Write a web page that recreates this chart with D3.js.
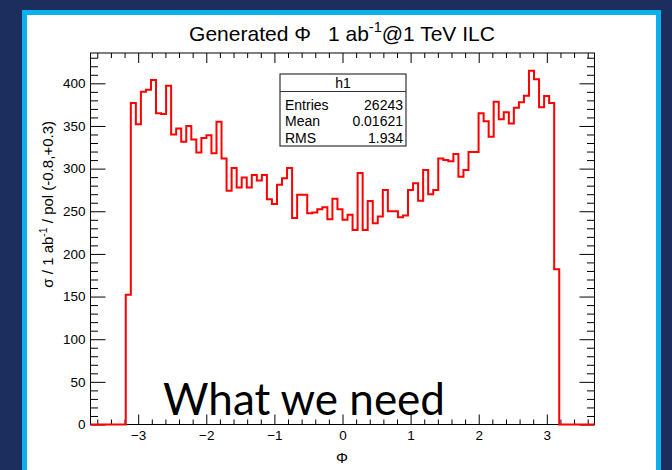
<!DOCTYPE html>
<html>
<head>
<meta charset="utf-8">
<script src="https://cdn.jsdelivr.net/npm/d3@7"></script>
<style>
  html, body { margin: 0; padding: 0; background: #1b2e5d; }
  svg { display: block; }
</style>
</head>
<body>
<svg id="chart" width="672" height="470"></svg>
<script>
// Histogram h1: generated Φ, 100 bins over [-3.7, 3.7]
const phiRange = [-3.7, 3.7];
const sigma = [
  0, 0, 0, 0, 0, 0, 0, 152,
  377, 352, 390, 392.5, 404, 365, 364, 397, 340, 347,
  331.5, 350, 334, 319, 336, 339, 318, 355, 312, 274,
  300.7, 278, 289.7, 278, 292.5, 286, 292.5,
  264, 258.5, 281, 288.6, 300.7,
  242, 269.4, 269.4, 247.6, 248.4, 252.3, 254.6, 240.5, 264.8, 252.3,
  240, 246, 228, 295, 228, 262, 236, 244, 275, 250, 250, 243, 245,
  275, 282.7, 262.4, 298.4, 270, 275, 312, 310, 308.5, 317, 290.5, 298.4, 319.5, 319.5,
  365, 355.4, 337.4, 378.5, 358, 366, 353, 371.4, 377.7, 385.5, 414.8, 404.7, 371.8, 385, 377,
  182,
  0, 0, 0, 0, 0, 0, 0
];
const xTicks = [-3, -2, -1, 0, 1, 2, 3];
const yTicks = [0, 50, 100, 150, 200, 250, 300, 350, 400];
const statsRows = [["Entries", "26243"], ["Mean", "0.01621"], ["RMS", "1.934"]];
const histName = "h1";

const svg = d3.select("#chart");
const W = 672, H = 470;
const font = "'Liberation Sans', Arial, Helvetica, sans-serif";

// slide background and framed canvas
svg.append("rect").attr("width", W).attr("height", H).attr("fill", "#1b2e5d");
svg.append("rect").attr("x", 22).attr("y", 10).attr("width", 639).attr("height", 480).attr("fill", "#0db0ee");
svg.append("rect").attr("x", 27).attr("y", 15).attr("width", 629).attr("height", 480).attr("fill", "#ffffff");

const frame = { left: 90.5, right: 594.5, top: 53, bottom: 424.5 };
const nBins = sigma.length;
const binW = (phiRange[1] - phiRange[0]) / nBins;
const yMax = d3.max(sigma) * 1.05;

const x = d3.scaleLinear().domain(phiRange).range([frame.left, frame.right]);
const y = d3.scaleLinear().domain([0, yMax]).range([frame.bottom, frame.top]);

// minor tick positions
const xMinor = d3.range(-18, 19).map(i => i * 0.2).filter(v => v >= phiRange[0] && v <= phiRange[1] && Math.abs(v - Math.round(v)) > 1e-6);
const yMinor = d3.range(0, yMax, 10).filter(v => v % 50 !== 0);

function styleAxis(g) {
  g.select(".domain").remove();
  g.selectAll(".tick line").attr("stroke", "#000").attr("stroke-width", 1);
  g.selectAll("text").attr("font-family", font).attr("font-size", 13.5).attr("fill", "#000");
}

// bottom axis with labels
const gx = svg.append("g").attr("transform", `translate(0,${frame.bottom})`)
  .call(d3.axisBottom(x).tickValues(xTicks).tickSizeInner(-10).tickSizeOuter(0).tickPadding(6)
    .tickFormat(d => d < 0 ? "\u2212" + Math.abs(d) : String(d)));
styleAxis(gx);
const gxm = svg.append("g").attr("transform", `translate(0,${frame.bottom})`)
  .call(d3.axisBottom(x).tickValues(xMinor).tickSizeInner(-5).tickSizeOuter(0).tickFormat(""));
styleAxis(gxm);

// top axis ticks
const gt = svg.append("g").attr("transform", `translate(0,${frame.top})`)
  .call(d3.axisTop(x).tickValues(xTicks).tickSizeInner(-10).tickSizeOuter(0).tickFormat(""));
styleAxis(gt);
const gtm = svg.append("g").attr("transform", `translate(0,${frame.top})`)
  .call(d3.axisTop(x).tickValues(xMinor).tickSizeInner(-5).tickSizeOuter(0).tickFormat(""));
styleAxis(gtm);

// left axis with labels
const gy = svg.append("g").attr("transform", `translate(${frame.left},0)`)
  .call(d3.axisLeft(y).tickValues(yTicks).tickSizeInner(-15).tickSizeOuter(0).tickPadding(5));
styleAxis(gy);
const gym = svg.append("g").attr("transform", `translate(${frame.left},0)`)
  .call(d3.axisLeft(y).tickValues(yMinor).tickSizeInner(-7.5).tickSizeOuter(0).tickFormat(""));
styleAxis(gym);

// right axis ticks
const gr = svg.append("g").attr("transform", `translate(${frame.right},0)`)
  .call(d3.axisRight(y).tickValues(yTicks).tickSizeInner(-15).tickSizeOuter(0).tickFormat(""));
styleAxis(gr);
const grm = svg.append("g").attr("transform", `translate(${frame.right},0)`)
  .call(d3.axisRight(y).tickValues(yMinor).tickSizeInner(-7.5).tickSizeOuter(0).tickFormat(""));
styleAxis(grm);

// frame
svg.append("rect")
  .attr("x", frame.left).attr("y", frame.top)
  .attr("width", frame.right - frame.left).attr("height", frame.bottom - frame.top)
  .attr("fill", "none").attr("stroke", "#000").attr("stroke-width", 1);

// histogram outline
const steps = sigma.map((v, i) => [phiRange[0] + i * binW, v]);
steps.push([phiRange[1], sigma[nBins - 1]]);
const line = d3.line().x(d => x(d[0])).y(d => y(d[1])).curve(d3.curveStepAfter);
svg.append("path").datum(steps)
  .attr("d", line)
  .attr("fill", "none").attr("stroke", "#ff0000").attr("stroke-width", 2)
  .attr("stroke-linejoin", "miter");

// title
const title = svg.append("text")
  .attr("x", 342).attr("y", 41).attr("text-anchor", "middle")
  .attr("font-family", font).attr("font-size", 21).attr("fill", "#000");
title.append("tspan").text("Generated \u03A6");
title.append("tspan").attr("dx", 17).text("1 ab");
title.append("tspan").attr("font-size", 14.5).attr("dy", -9).text("-1");
title.append("tspan").attr("dy", 9).text("@1 TeV ILC");

// axis titles
svg.append("text")
  .attr("x", 342).attr("y", 463).attr("text-anchor", "middle")
  .attr("font-family", font).attr("font-size", 15).attr("fill", "#000")
  .text("\u03A6");

const yt = svg.append("text")
  .attr("transform", `translate(53,121) rotate(-90)`)
  .attr("text-anchor", "end")
  .attr("font-family", font).attr("font-size", 15).attr("fill", "#000");
yt.append("tspan").text("\u03C3 / 1 ab");
yt.append("tspan").attr("font-size", 10.5).attr("dy", -6).text("-1");
yt.append("tspan").attr("dy", 6).text(" / pol (-0.8,+0.3)");

// statistics box
const box = { x: 280, y: 74, w: 126, h: 72, head: 17.5 };
svg.append("rect").attr("x", box.x).attr("y", box.y).attr("width", box.w).attr("height", box.h)
  .attr("fill", "#fff").attr("stroke", "#333").attr("stroke-width", 1.2);
svg.append("line").attr("x1", box.x).attr("x2", box.x + box.w)
  .attr("y1", box.y + box.head).attr("y2", box.y + box.head)
  .attr("stroke", "#333").attr("stroke-width", 1.2);
svg.append("text").attr("x", box.x + box.w / 2).attr("y", box.y + 14).attr("text-anchor", "middle")
  .attr("font-family", font).attr("font-size", 14).attr("fill", "#000").text(histName);
statsRows.forEach((r, i) => {
  const by = box.y + box.head + 18 + i * 16.5;
  svg.append("text").attr("x", box.x + 5).attr("y", by)
    .attr("font-family", font).attr("font-size", 14).attr("fill", "#000").text(r[0]);
  svg.append("text").attr("x", box.x + box.w - 3).attr("y", by).attr("text-anchor", "end")
    .attr("font-family", font).attr("font-size", 14).attr("fill", "#000").text(r[1]);
});

// slide annotation
svg.append("text")
  .attr("x", 163).attr("y", 415)
  .attr("font-family", "Lato, 'Open Sans', sans-serif").attr("font-size", 45)
  .attr("textLength", 282).attr("lengthAdjust", "spacingAndGlyphs")
  .attr("fill", "#000").text("What we need");
</script>
</body>
</html>
